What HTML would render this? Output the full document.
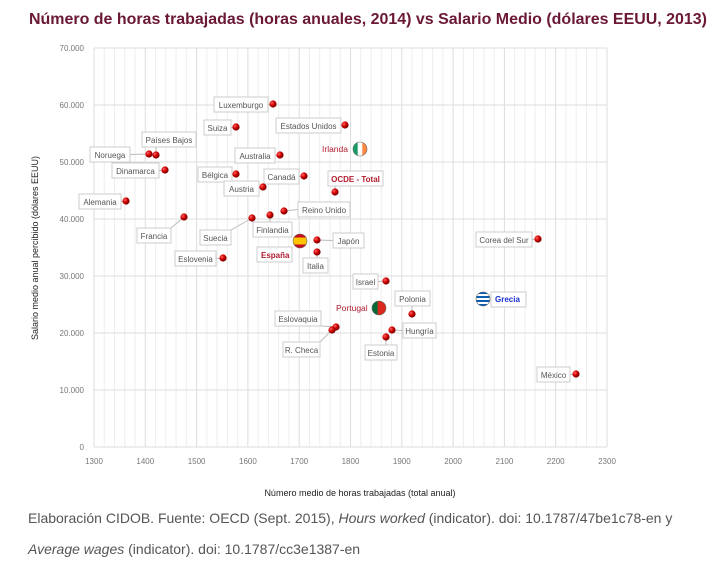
<!DOCTYPE html>
<html><head><meta charset="utf-8"><style>
body{margin:0;background:#fff;width:721px;height:576px;overflow:hidden;font-family:"Liberation Sans",sans-serif}
svg{position:absolute;left:0;top:0}
.cap{position:absolute;left:28px;font-size:14px;color:#555;white-space:nowrap}
</style></head><body>
<svg width="721" height="576" xmlns="http://www.w3.org/2000/svg" font-family="Liberation Sans, sans-serif">
<defs>
<radialGradient id="rd" cx="35%" cy="35%" r="65%"><stop offset="0" stop-color="#ff6b6b"/><stop offset="0.5" stop-color="#d40000"/><stop offset="1" stop-color="#7a0000"/></radialGradient>
</defs>
<text x="29" y="24" font-size="16" font-weight="bold" fill="#6a1836" textLength="678" lengthAdjust="spacingAndGlyphs">Número de horas trabajadas (horas anuales, 2014) vs Salario Medio (dólares EEUU, 2013)</text>
<g id="grid"></g>
<g font-size="8" fill="#777" text-anchor="end">
<text x="84" y="51">70.000</text><text x="84" y="108">60.000</text><text x="84" y="165">50.000</text><text x="84" y="222">40.000</text><text x="84" y="279">30.000</text><text x="84" y="336">20.000</text><text x="84" y="393">10.000</text><text x="84" y="450">0</text>
</g>
<g font-size="8" fill="#777" text-anchor="middle" id="xt"></g>
<text x="360" y="496" font-size="9" fill="#222" text-anchor="middle">Número medio de horas trabajadas (total anual)</text>
<text transform="translate(38,248) rotate(-90)" font-size="9" fill="#222" text-anchor="middle">Salario medio anual percibido (dólares EEUU)</text>
<g id="pts" font-size="8" fill="#444"></g>
</svg>
<div class="cap" style="top:510px">Elaboración CIDOB. Fuente: OECD (Sept. 2015), <i>Hours worked</i> (indicator). doi: 10.1787/47be1c78-en y</div>
<div class="cap" style="top:541px"><i>Average wages</i> (indicator). doi: 10.1787/cc3e1387-en</div>
<script>
var NS="http://www.w3.org/2000/svg";
function el(p,t,a,txt){var e=document.createElementNS(NS,t);for(var k in a)e.setAttribute(k,a[k]);if(txt)e.textContent=txt;p.appendChild(e);return e;}
var g=document.getElementById('grid');
for(var i=0;i<=50;i++){var x=94+i*513/50;el(g,'line',{x1:x,x2:x,y1:48,y2:447,stroke:i%5==0?'#ddd':'#eee','stroke-width':1});}
for(var j=0;j<=7;j++){var y=447-j*57;el(g,'line',{x1:94,x2:607,y1:y,y2:y,stroke:'#ddd'});}
var xt=document.getElementById('xt');
for(var i=0;i<=10;i++)el(xt,'text',{x:94+i*51.3,y:464},String(1300+i*100));
var P=document.getElementById('pts');
var d=[[273,104,'Luxemburgo',214,97,54],[236,127,'Suiza',204,120,27],[345,125,'Estados Unidos',276,118,65],
[149,154,'Noruega',90,147,40],[156,155,'Países Bajos',142,132,54],[280,155,'Australia',235,148,40],
[165,170,'Dinamarca',112,163,47],[236,174,'Bélgica',198,167,34],[304,176,'Canadá',264,169,35],
[263,187,'Austria',224,181,35],[335,192,'OCDE - Total',328,171,55,'#b01c2e',1],[126,201,'Alemania',79,194,42],
[184,217,'Francia',137,228,34],[252,218,'Suecia',200,230,31],[270,215,'Finlandia',253,222,39],
[284,211,'Reino Unido',298,202,52],[317,240,'Japón',333,233,31],[317,252,'Italia',303,258,25],
[223,258,'Eslovenia',175,251,41],[538,239,'Corea del Sur',476,232,56],[386,281,'Israel',353,274,25],
[412,314,'Polonia',395,291,35],[336,327,'Eslovaquia',275,311,46],[332,330,'R. Checa',283,342,37],
[392,330,'Hungría',403,323,33],[386,337,'Estonia',365,345,32],[576,374,'México',537,367,33]];
d.forEach(function(p){
 var bx=p[3],by=p[4],bw=p[5],cx=bx+bw/2,cy=by+7.5;
 var lx=Math.max(bx,Math.min(bx+bw,p[0])),ly=p[1]<by?by:(p[1]>by+15?by+15:cy);
 if(p[0]>bx+bw)lx=bx+bw;if(p[0]<bx)lx=bx;
 el(P,'line',{x1:p[0],y1:p[1],x2:lx,y2:ly,stroke:'#bbb'});
 el(P,'rect',{x:bx,y:by,width:bw,height:15,fill:'#fff',stroke:'#ccc'});
 el(P,'text',{x:cx,y:by+11,'text-anchor':'middle',fill:p[6]||'#555','font-weight':p[7]?'bold':'normal'},p[2]);
 el(P,'circle',{cx:p[0],cy:p[1],r:3.6,fill:'url(#rd)'});
});
function flag(x,y,cols,vert){var gg=el(P,'g',{});var cp='c'+x;var c=el(gg,'clipPath',{id:cp});el(c,'circle',{cx:x,cy:y,r:7});
 var w=14/cols.length;cols.forEach(function(col,i){vert?el(gg,'rect',{x:x-7+i*w,y:y-7,width:w+0.5,height:14,fill:col,'clip-path':'url(#'+cp+')'}):el(gg,'rect',{x:x-7,y:y-7+i*w,width:14,height:w+0.5,fill:col,'clip-path':'url(#'+cp+')'});});
 el(gg,'circle',{cx:x,cy:y,r:7,fill:'none',stroke:'#666','stroke-width':0.6});}
flag(360,149,['#169b62','#fff','#ff883e'],1);
el(P,'text',{x:322,y:152,fill:'#b01c2e','font-size':'8.5'},'Irlanda');
flag(300,241,['#c60b1e','#ffc400','#ffc400','#c60b1e'],0);
el(P,'rect',{x:257,y:247,width:35,height:15,fill:'#fff',stroke:'#ccc'});
el(P,'text',{x:261,y:258,fill:'#b01c2e','font-weight':'bold'},'España');
flag(379,308,['#046a38','#046a38','#da291c','#da291c','#da291c'],1);
el(P,'text',{x:336,y:311,fill:'#b01c2e','font-size':'8.5'},'Portugal');
flag(483,299,['#0d5eaf','#fff','#0d5eaf','#fff','#0d5eaf','#fff','#0d5eaf'],0);
el(P,'rect',{x:491,y:292,width:35,height:15,fill:'#fff',stroke:'#ccc'});
el(P,'text',{x:495,y:302,fill:'#1a2fd0','font-weight':'bold'},'Grecia');
</script>
</body></html>
